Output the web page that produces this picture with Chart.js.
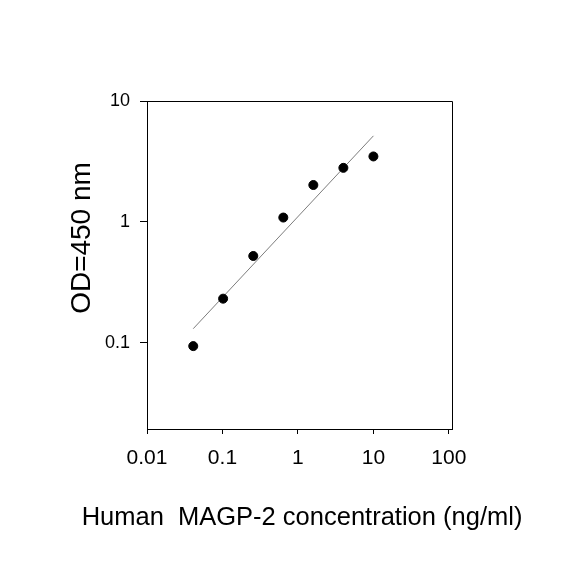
<!DOCTYPE html>
<html lang="en">

<head>
  <meta charset="UTF-8">
  <script src="https://cdn.jsdelivr.net/npm/chart.js@4.4.0/dist/chart.umd.min.js"></script>
  <title>MAGP-2 standard curve</title>
  <style>
    body { margin: 0; background: #fff; }
  </style>
</head>

<body>
  <canvas id="myChart" width="584" height="584"></canvas>
  <script>
    // standard points
    const concentration = [0.041, 0.102, 0.256, 0.64, 1.6, 4, 10]
    const odValues = [0.094, 0.232, 0.523, 1.087, 2.02, 2.8, 3.48]
    // fitted line ends
    const fitX = [0.041, 10]
    const fitY = [0.131, 5.15]
    const xTicks = [0.01, 0.1, 1, 10, 100]
    const yTicks = [0.1, 1, 10]
    const xTitle = 'Human  MAGP-2 concentration (ng/ml)'
    const yTitle = 'OD=450 nm'

    const FONT = '"Liberation Sans", Arial, sans-serif'

    const plugin = {
      id: 'frame_and_titles',
      beforeDraw: (chart) => {
        const ctx = chart.ctx
        ctx.save()
        ctx.fillStyle = '#fff'
        ctx.fillRect(0, 0, chart.width, chart.height)
        ctx.restore()
      },
      afterDraw: (chart) => {
        const ctx = chart.ctx
        const a = chart.chartArea
        ctx.save()
        ctx.strokeStyle = '#000'
        ctx.lineWidth = 1
        ctx.beginPath()
        ctx.moveTo(a.left, a.top + 0.5)
        ctx.lineTo(a.right + 0.5, a.top + 0.5)
        ctx.lineTo(a.right + 0.5, a.bottom)
        ctx.stroke()

        ctx.fillStyle = '#000'
        ctx.textAlign = 'center'
        ctx.textBaseline = 'middle'
        ctx.font = '25.5px ' + FONT
        ctx.fillText(xTitle, 302, 518)

        ctx.translate(82, 238)
        ctx.rotate(-Math.PI / 2)
        ctx.font = '28px ' + FONT
        ctx.fillText(yTitle, 0, 0)
        ctx.restore()
      }
    }

    const ctx = document.getElementById('myChart')
    const myChart = new Chart(ctx, {
      data: {
        datasets: [
          {
            type: 'line',
            data: fitX.map((x, i) => ({ x: x, y: fitY[i] })),
            borderColor: 'rgb(125, 125, 125)',
            borderWidth: 1,
            pointRadius: 0,
            order: 2
          },
          {
            type: 'scatter',
            data: concentration.map((x, i) => ({ x: x, y: odValues[i] })),
            backgroundColor: '#000',
            borderColor: '#000',
            pointRadius: 4.5,
            order: 1
          }
        ]
      },
      plugins: [plugin],
      options: {
        responsive: false,
        animation: false,
        devicePixelRatio: 1,
        layout: {
          padding: { top: 101, right: 132, left: 0, bottom: 0 }
        },
        plugins: {
          legend: { display: false },
          tooltip: { enabled: false }
        },
        scales: {
          x: {
            type: 'logarithmic',
            min: 0.01,
            max: 110,
            afterBuildTicks: (scale) => { scale.ticks = xTicks.map(v => ({ value: v })) },
            afterFit: (scale) => { scale.height = 155 },
            border: { color: '#000', width: 1 },
            grid: { drawOnChartArea: false, color: '#000', tickLength: 5 },
            ticks: {
              color: '#000',
              padding: 12,
              maxRotation: 0,
              autoSkip: false,
              font: { size: 21, family: FONT },
              callback: (v) => String(v)
            }
          },
          y: {
            type: 'logarithmic',
            min: 0.0194,
            max: 10,
            afterBuildTicks: (scale) => { scale.ticks = yTicks.map(v => ({ value: v })) },
            afterFit: (scale) => { scale.width = 147 },
            border: { color: '#000', width: 1 },
            grid: { drawOnChartArea: false, color: '#000', tickLength: 7 },
            ticks: {
              color: '#000',
              padding: 10,
              autoSkip: false,
              font: { size: 18, family: FONT },
              callback: (v) => String(v)
            }
          }
        }
      }
    })
  </script>
</body>

</html>
